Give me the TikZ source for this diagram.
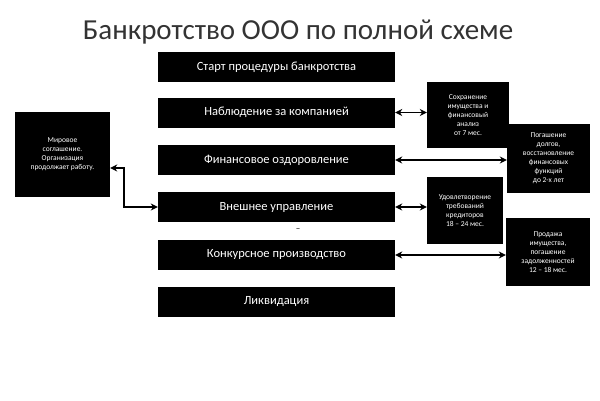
\documentclass[tikz,border=0pt]{standalone}
\usepackage{fontspec}
\setmainfont{Carlito}
\usetikzlibrary{arrows.meta}
\begin{document}
\begin{tikzpicture}[x=1pt,y=-1pt,
 mainbox/.style={fill=black,text=white,minimum width=237pt,minimum height=30pt,inner sep=0pt,font=\fontsize{12.5}{14}\selectfont},
 sidebox/.style={fill=black,text=white,inner sep=0pt,align=center,font=\fontsize{7.5}{9}\selectfont},
 conn/.style={line width=1.6pt,{Stealth[length=7pt,width=7pt]}-{Stealth[length=7pt,width=7pt]}}]
\useasboundingbox (0,0) rectangle (600,400);
\node[text=black!80,font=\fontsize{29}{32}\selectfont] (t) at (298,32) {Банкротство ООО по полной схеме};
\node[mainbox] (m1) at (276.5,67) {Старт процедуры банкротства};
\node[mainbox] (m2) at (276.5,112.5) {Наблюдение за компанией};
\node[mainbox] (m3) at (276.5,160) {Финансовое оздоровление};
\node[mainbox] (m4) at (276.5,207) {Внешнее управление};
\node[mainbox] (m5) at (276.5,255) {Конкурсное производство};
\node[mainbox] (m6) at (276.5,301.5) {Ликвидация};
\node[font=\small] (dash) at (298,230) {–};
\node[sidebox,minimum width=82pt,minimum height=66pt] (a) at (468,115) {Сохранение\\имущества и\\финансовый\\анализ\\от 7 мес.};
\node[sidebox,minimum width=83pt,minimum height=69pt] (b) at (548.5,158.5) {Погашение\\долгов,\\восстановление\\финансовых\\функций\\до 2-х лет};
\node[sidebox,minimum width=76pt,minimum height=67pt] (c) at (465,210.5) {Удовлетворение\\требований\\кредиторов\\18 – 24 мес.};
\node[sidebox,minimum width=84pt,minimum height=68pt] (d) at (548,252) {Продажа\\имущества,\\погашение\\задолженностей\\12 – 18 мес.};
\node[sidebox,minimum width=95pt,minimum height=85pt] (l) at (62.5,154.5) {Мировое\\соглашение.\\Организация\\продолжает работу.};
\draw[conn] (m2.east) -- (m2.east -| a.west);
\draw[conn] (m3.east) -- (m3.east -| b.west);
\draw[conn] (m4.east) -- (m4.east -| c.west);
\draw[conn] (m5.east) -- (m5.east -| d.west);
\coordinate (k1) at (124,168);
\coordinate (k2) at (124,207);
\draw[conn] (l.east |- k1) -- (k1) -- (k2) -- (m4.west);
\end{tikzpicture}
\end{document}
